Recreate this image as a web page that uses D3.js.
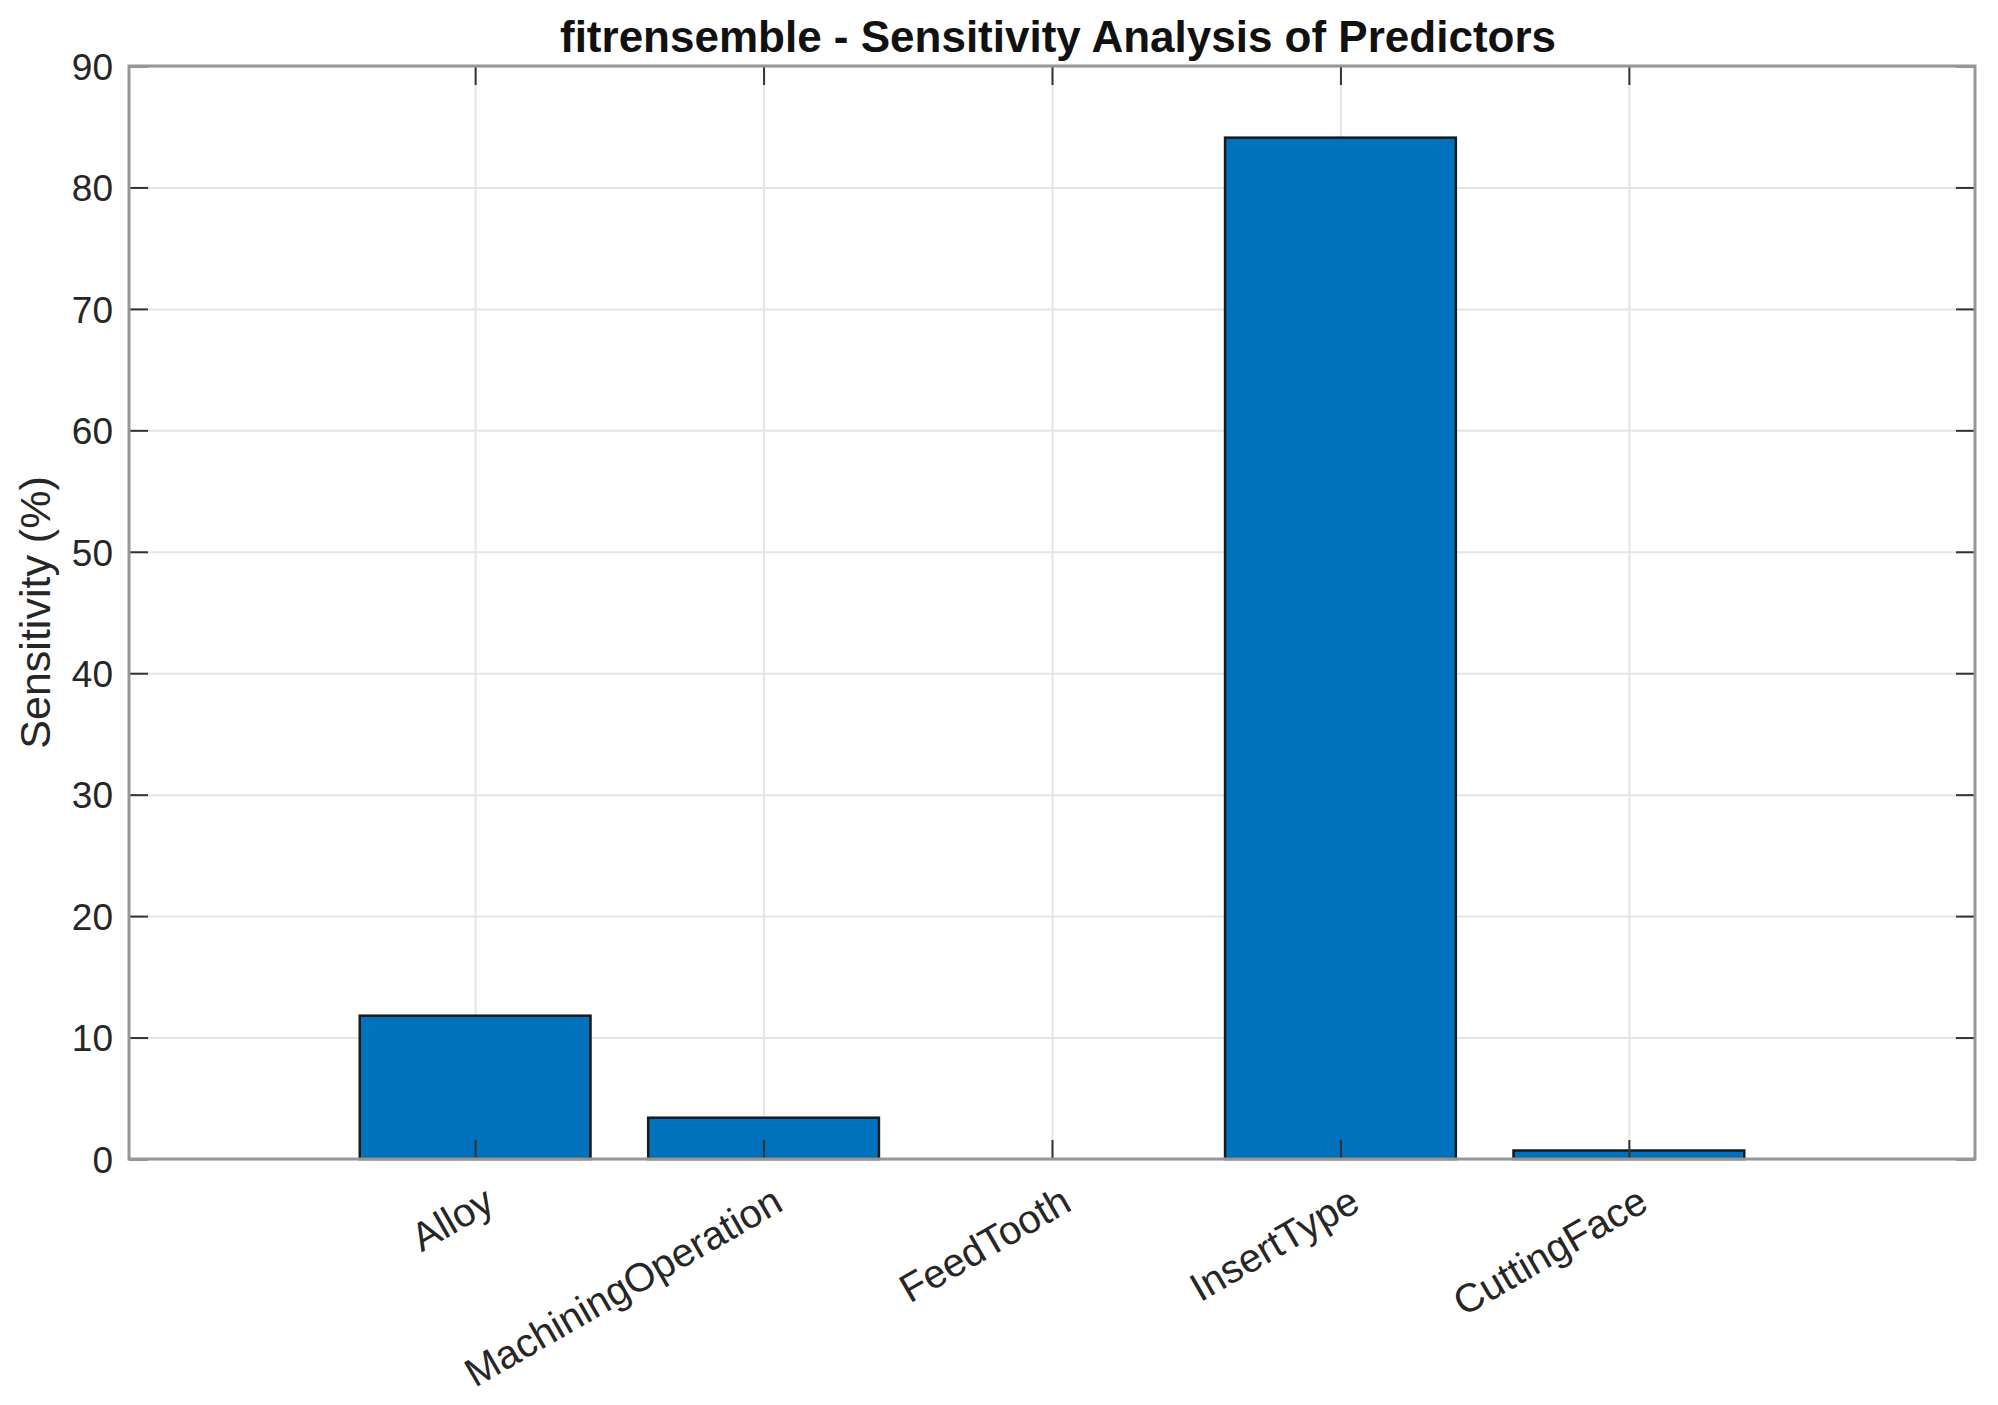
<!DOCTYPE html>
<html>
<head>
<meta charset="utf-8">
<script src="https://cdn.jsdelivr.net/npm/d3@7"></script>
<style>
  body { margin: 0; background: #fff; }
  svg { display: block; font-family: "Liberation Sans", Arial, Helvetica, sans-serif; }
  .tick text { fill: #262626; }
</style>
</head>
<body>
<svg id="chart" width="1998" height="1405"></svg>
<script>
// predictor names and their sensitivity (%)
const predictors = ["Alloy", "MachiningOperation", "FeedTooth", "InsertType", "CuttingFace"];
const sensitivity = [11.8, 3.4, 0, 84.1, 0.7];
const yTicks = [0, 10, 20, 30, 40, 50, 60, 70, 80, 90];

let margin = {top: 66, right: 23, bottom: 246, left: 129},
    width = 1998 - margin.left - margin.right,
    height = 1405 - margin.top - margin.bottom;

let svg = d3.select("#chart");
let g = svg.append("g")
    .attr("transform", "translate(" + margin.left + "," + margin.top + ")");

// bars sit at 1..5, matlab style limits
let x = d3.scaleLinear().domain([-0.2, 6.2]).range([0, width]);
let y = d3.scaleLinear().domain([0, 90]).range([height, 0]);
let idx = d3.range(1, predictors.length + 1);

// grid
g.append("g")
    .attr("class", "grid")
    .call(d3.axisBottom(x).tickValues(idx).tickSize(height).tickFormat(""))
    .call(s => s.select(".domain").remove());
g.append("g")
    .attr("class", "grid")
    .call(d3.axisLeft(y).tickValues(yTicks).tickSize(-width).tickFormat(""))
    .call(s => s.select(".domain").remove());
g.selectAll(".grid line")
    .attr("stroke", "#e4e4e4")
    .attr("stroke-width", 2);

// bars
let barW = x(0.8) - x(0);
g.selectAll("rect.bar")
    .data(sensitivity)
    .enter()
    .append("rect")
    .attr("class", "bar")
    .attr("x", (d, i) => x(i + 1) - barW / 2)
    .attr("y", d => y(d))
    .attr("width", barW)
    .attr("height", d => y(0) - y(d))
    .attr("fill", "#0072BD")
    .attr("stroke", "#1a1a1a")
    .attr("stroke-width", 2.5);

// y axis left (ticks inside) and right
let yAxis = g.append("g")
    .call(d3.axisLeft(y).tickValues(yTicks).tickSize(-19).tickPadding(16))
    .call(s => s.select(".domain").remove());
yAxis.selectAll("text")
    .attr("font-size", 37)
    .attr("dy", "0.36em");

g.append("g")
    .attr("transform", "translate(" + width + ",0)")
    .call(d3.axisRight(y).tickValues(yTicks).tickSize(-19).tickFormat(""))
    .call(s => s.select(".domain").remove());

// x axis bottom and top
let xAxis = g.append("g")
    .attr("transform", "translate(0," + height + ")")
    .call(d3.axisBottom(x).tickValues(idx).tickSize(-19).tickFormat(i => predictors[i - 1]))
    .call(s => s.select(".domain").remove());
xAxis.selectAll("text")
    .attr("font-size", 40)
    .attr("text-anchor", "end")
    .attr("y", 0)
    .attr("dy", "0.35em")
    .attr("transform", "translate(14,38) rotate(-30)");

g.append("g")
    .call(d3.axisTop(x).tickValues(idx).tickSize(-19).tickFormat(""))
    .call(s => s.select(".domain").remove());

g.selectAll(".tick line")
    .filter(function() { return this.parentNode.parentNode.getAttribute("class") !== "grid"; })
    .attr("stroke", "#333")
    .attr("stroke-width", 2);

// box
g.append("rect")
    .attr("width", width)
    .attr("height", height)
    .attr("fill", "none")
    .attr("stroke", "#969696")
    .attr("stroke-width", 3);

// title and y label
svg.append("text")
    .attr("x", margin.left + width / 2 + 6)
    .attr("y", 52)
    .attr("text-anchor", "middle")
    .attr("font-size", 44)
    .attr("font-weight", "bold")
    .attr("fill", "#111")
    .text("fitrensemble - Sensitivity Analysis of Predictors");

svg.append("text")
    .attr("transform", "translate(50," + (margin.top + height / 2) + ") rotate(-90)")
    .attr("text-anchor", "middle")
    .attr("font-size", 43)
    .attr("fill", "#262626")
    .text("Sensitivity (%)");
</script>
</body>
</html>
